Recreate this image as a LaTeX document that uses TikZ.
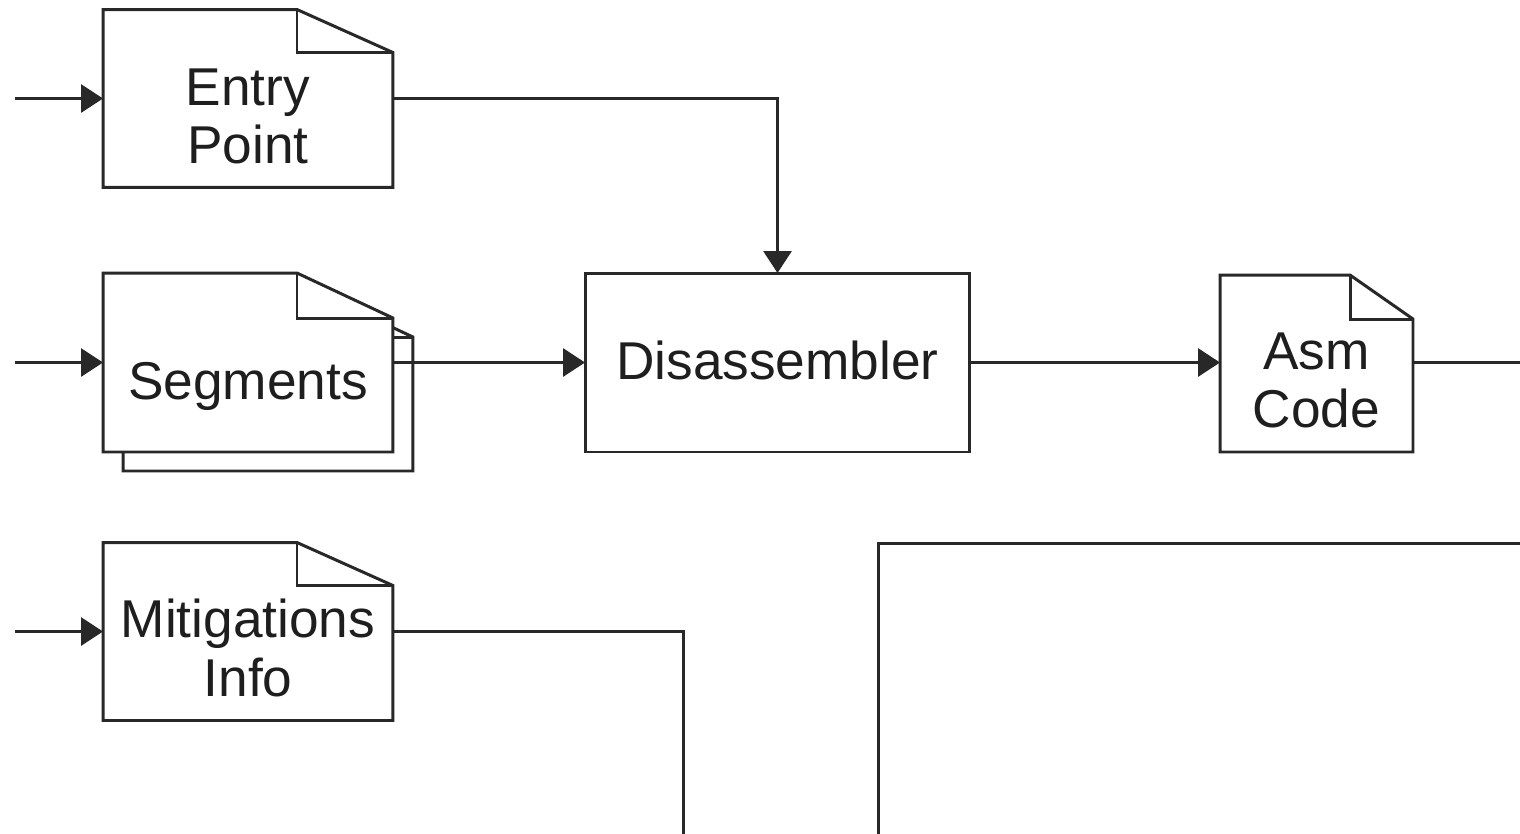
\documentclass[tikz,border=0pt]{standalone}
\usepackage{fontspec}
\setmainfont{Liberation Sans}
\usetikzlibrary{arrows.meta,backgrounds}
\definecolor{lncol}{RGB}{40,40,40}
\definecolor{txcol}{RGB}{30,30,30}
\tikzset{
  ln/.style={line width=1.7pt, draw=lncol},
  docnode/.style={minimum width=#1, minimum height=3.56cm, inner sep=0pt, outer sep=0pt},
  proc/.style={ln, fill=white, minimum width=7.7cm, minimum height=3.58cm, inner sep=0pt, outer sep=0pt},
  conn/.style={ln, -{Triangle[length=0.44cm,width=0.56cm]}},
  plain/.style={ln},
  txt/.style={font=\fontsize{30.3pt}{33.5pt}\selectfont, text=txcol, align=center, inner sep=0pt},
}
\newcommand{\docpath}[4]{%
  \filldraw[ln, fill=white] ([shift={#4}]#1.south west) -- ([shift={#4}]#1.north west) -- ([shift={#4},xshift=-#2]#1.north east) -- ([shift={#4},yshift=-#3]#1.north east) -- ([shift={#4}]#1.south east) -- cycle;
  \draw[ln] ([shift={#4},xshift=-#2]#1.north east) |- ([shift={#4},yshift=-#3]#1.north east);
}
\begin{document}
\begin{tikzpicture}[x=0.02cm, y=-0.02cm]
\useasboundingbox (0,0) rectangle (1520,833);
\clip (0,0) rectangle (1520,833);

% documents (text as labels, outlines on background layer)
\node[docnode=5.8cm, label={[txt, yshift=-0.36cm]center:Entry\\Point}] (entry) at (248,98.5) {};
\node[docnode=5.8cm, minimum height=3.58cm, label={[txt, yshift=-0.48cm]center:Segments}] (segs) at (248,362.5) {};
\node[docnode=5.8cm, label={[txt, yshift=-0.33cm]center:Mitigations\\Info}] (mitig) at (248,631.5) {};
\node[docnode=3.86cm, minimum height=3.54cm, label={[txt, yshift=-0.34cm]center:Asm\\Code}] (asm) at (1316.5,363.5) {};

\begin{scope}[on background layer]
  \docpath{entry}{1.92cm}{0.86cm}{(0,0)}
  \docpath{segs}{1.92cm}{0.9cm}{(20,19)}
  \docpath{segs}{1.92cm}{0.9cm}{(0,0)}
  \docpath{mitig}{1.92cm}{0.86cm}{(0,0)}
  \docpath{asm}{1.26cm}{0.88cm}{(0,0)}
\end{scope}

% process box
\node[proc, draw, text=txcol, font=\fontsize{30.3pt}{33.5pt}\selectfont] (dis) at (777.5,362.5) {\raisebox{0.08cm}{Disassembler}};

% large box, partly outside the picture
\node[ln, draw, anchor=north west, minimum width=20cm, minimum height=10cm, inner sep=0pt, outer sep=0pt] (big) at (878,543) {};

% free ends
\coordinate (ein) at (15,98.5);
\coordinate (sin) at (15,362.5);
\coordinate (min) at (15,631.5);
\coordinate (aout) at (1530,363.5);
\coordinate (mout) at (683,850);

% connectors
\draw[conn] (ein) -- (entry.west);
\draw[conn] (sin) -- (segs.west);
\draw[conn] (min) -- (mitig.west);
\draw[conn] (entry.east) -| (dis.north);
\draw[conn] (segs.east) -- (dis.west);
\draw[conn] (dis.east) -- (asm.west |- dis.east);
\draw[plain] (asm.east |- dis.east) -- (aout |- dis.east);
\draw[plain] (mitig.east) -| (mout);
\end{tikzpicture}
\end{document}
